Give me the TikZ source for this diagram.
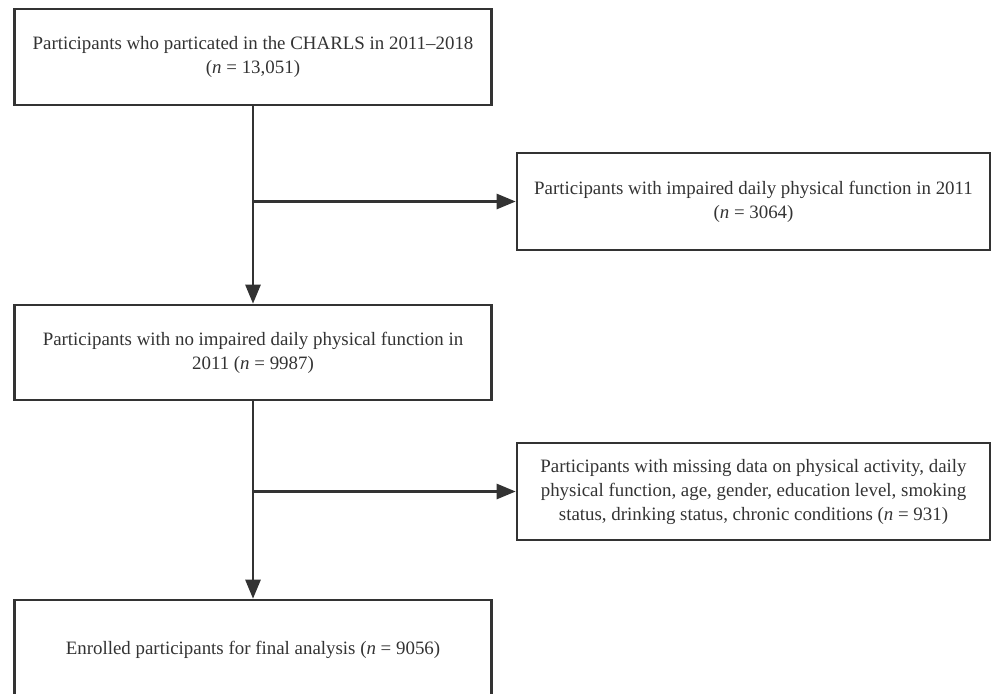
\documentclass[tikz,border=0pt]{standalone}
\usepackage{fontspec}
\setmainfont{Liberation Serif}
\usetikzlibrary{arrows.meta}
\definecolor{ink}{HTML}{333333}
\begin{document}
\begin{tikzpicture}[x=1pt,y=-1pt,
  box/.style={draw=ink,line width=2.6pt,rectangle,inner sep=0pt,align=center,text=ink,
    font=\fontsize{18.9}{24}\selectfont},
  leftbox/.style={box,minimum width=477pt},
  rightbox/.style={box,minimum width=473pt},
  conn/.style={draw=ink,line width=2.6pt},
  arr/.style={conn,-{Triangle[length=19pt,width=15pt]}}]
\useasboundingbox (0,0) rectangle (992,693);
\node[leftbox,minimum height=96pt] (b1) at (253,57) {Participants who particated in the CHARLS in 2011--2018\\(\textit{n} = 13,051)};
\node[rightbox,minimum height=97pt] (b2) at (753.5,201.5) {Participants with impaired daily physical function in 2011\\(\textit{n} = 3064)};
\node[leftbox,minimum height=95pt] (b3) at (253,352.5) {Participants with no impaired daily physical function in\\2011 (\textit{n} = 9987)};
\node[rightbox,minimum height=97pt] (b4) at (753.5,491.5) {Participants with missing data on physical activity, daily\\physical function, age, gender, education level, smoking\\status, drinking status, chronic conditions (\textit{n} = 931)};
\node[leftbox,minimum height=100pt] (b5) at (253,650) {Enrolled participants for final analysis (\textit{n} = 9056)};
\coordinate (j1) at (b1.south |- b2.west);
\coordinate (j2) at (b3.south |- b4.west);
\draw[arr] (b1.south) -- (b3.north);
\draw[arr] (j1) -- (b2.west);
\draw[arr] (b3.south) -- (b5.north);
\draw[arr] (j2) -- (b4.west);
\end{tikzpicture}
\end{document}
